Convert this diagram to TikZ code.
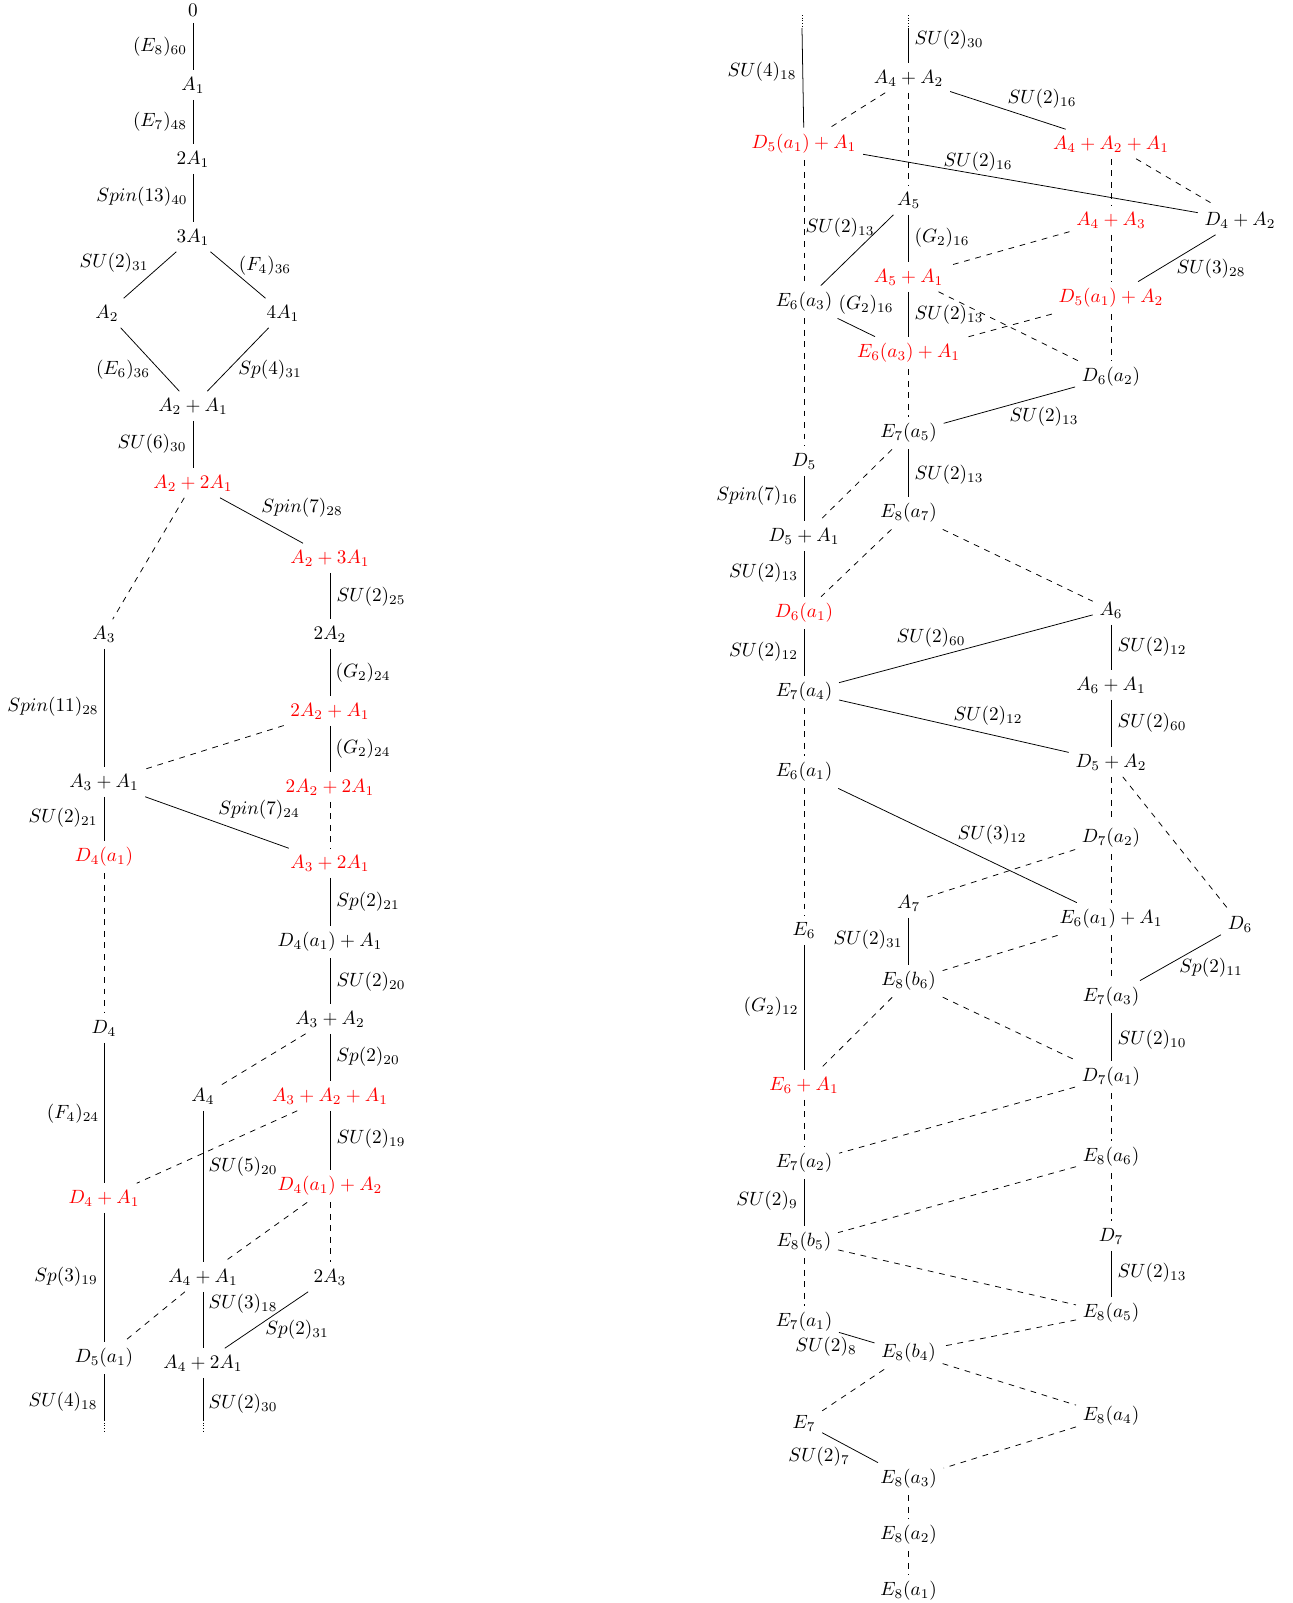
\documentclass[tikz,border=0pt]{standalone}
\begin{document}
\begin{tikzpicture}[x=0.521pt,y=-0.521pt,
  nd/.style={inner sep=0.3333em},
  rn/.style={nd,text=red},
  lab/.style={inner sep=0pt},
  dsh/.style={dashed},
  dts/.style={densely dotted}]
\useasboundingbox (0,0) rectangle (1293,1603);
% ---------------- left diagram: nodes ----------------
\node[nd] (L0) at (193,10) {$0$};
\node[nd] (LA1) at (193,85) {$A_1$};
\node[nd] (L2A1) at (193,159) {$2A_1$};
\node[nd] (L3A1) at (193,237) {$3A_1$};
\node[nd] (LA2) at (107,313) {$A_2$};
\node[nd] (L4A1) at (283,313) {$4A_1$};
\node[nd] (LA2A1) at (193,406) {$A_2+A_1$};
\node[rn] (LA22A1) at (193,483) {$A_2+2A_1$};
\node[rn] (LA23A1) at (330,558) {$A_2+3A_1$};
\node[nd] (LA3) at (104,634) {$A_3$};
\node[nd] (L2A2) at (330,634) {$2A_2$};
\node[rn] (L2A2A1) at (330,711) {$2A_2+A_1$};
\node[nd] (LA3A1) at (104,782) {$A_3+A_1$};
\node[rn] (L2A22A1) at (330,787) {$2A_2+2A_1$};
\node[rn] (LD4a1) at (104,857) {$D_4(a_1)$};
\node[rn] (LA32A1) at (330,863) {$A_3+2A_1$};
\node[nd] (LD4a1A1) at (330,942) {$D_4(a_1)+A_1$};
\node[nd] (LA3A2) at (330,1019) {$A_3+A_2$};
\node[nd] (LD4) at (104,1028) {$D_4$};
\node[nd] (LA4) at (203,1096) {$A_4$};
\node[rn] (LA3A2A1) at (330,1096) {$A_3+A_2+A_1$};
\node[rn] (LD4a1A2) at (330,1186) {$D_4(a_1)+A_2$};
\node[rn] (LD4A1) at (104,1198) {$D_4+A_1$};
\node[nd] (LA4A1) at (203,1277) {$A_4+A_1$};
\node[nd] (L2A3) at (330,1277) {$2A_3$};
\node[nd] (LD5a1) at (104,1358) {$D_5(a_1)$};
\node[nd] (LA42A1) at (203,1363) {$A_4+2A_1$};
\coordinate (Lb1) at (104,1420);
\coordinate (Lb1e) at (104,1431);
\coordinate (Lb2) at (203,1420);
\coordinate (Lb2e) at (203,1431);
% ---------------- left diagram: labels ----------------
\node[lab] (l1) at (160,47) {$(E_8)_{60}$};
\node[lab] (l2) at (160,122) {$(E_7)_{48}$};
\node[lab] (l3) at (142,197) {$Spin(13)_{40}$};
\node[lab] (l4) at (114,263) {$SU(2)_{31}$};
\node[lab] (l5) at (265,266) {$(F_4)_{36}$};
\node[lab] (l6) at (123,370) {$(E_6)_{36}$};
\node[lab] (l7) at (270,370) {$Sp(4)_{31}$};
\node[lab] (l8) at (152,444) {$SU(6)_{30}$};
\node[lab] (l9) at (302,508) {$Spin(7)_{28}$};
\node[lab] (l10) at (371,597) {$SU(2)_{25}$};
\node[lab] (l11) at (363,673) {$(G_2)_{24}$};
\node[lab] (l12) at (53,707) {$Spin(11)_{28}$};
\node[lab] (l13) at (363,749) {$(G_2)_{24}$};
\node[lab] (l14) at (63,818) {$SU(2)_{21}$};
\node[lab] (l15) at (259,810) {$Spin(7)_{24}$};
\node[lab] (l16) at (368,902) {$Sp(2)_{21}$};
\node[lab] (l17) at (371,982) {$SU(2)_{20}$};
\node[lab] (l18) at (368,1057) {$Sp(2)_{20}$};
\node[lab] (l19) at (73,1114) {$(F_4)_{24}$};
\node[lab] (l20) at (371,1139) {$SU(2)_{19}$};
\node[lab] (l21) at (243,1167) {$SU(5)_{20}$};
\node[lab] (l22) at (66,1277) {$Sp(3)_{19}$};
\node[lab] (l23) at (243,1304) {$SU(3)_{18}$};
\node[lab] (l24) at (297,1330) {$Sp(2)_{31}$};
\node[lab] (l25) at (63,1402) {$SU(4)_{18}$};
\node[lab] (l26) at (243,1404) {$SU(2)_{30}$};
% ---------------- left diagram: connectors ----------------
\draw (L0) -- (LA1);
\draw (LA1) -- (L2A1);
\draw (L2A1) -- (L3A1);
\draw (L3A1) -- (LA2);
\draw (L3A1) -- (L4A1);
\draw (LA2) -- (LA2A1);
\draw (L4A1) -- (LA2A1);
\draw (LA2A1) -- (LA22A1);
\draw (LA22A1) -- (LA23A1);
\draw[dsh] (LA22A1) -- (LA3);
\draw (LA23A1) -- (L2A2);
\draw (L2A2) -- (L2A2A1);
\draw (L2A2A1) -- (L2A22A1);
\draw (LA3) -- (LA3A1);
\draw[dsh] (L2A2A1) -- (LA3A1);
\draw (LA3A1) -- (LD4a1);
\draw (LA3A1) -- (LA32A1);
\draw[dsh] (L2A22A1) -- (LA32A1);
\draw (LA32A1) -- (LD4a1A1);
\draw[dsh] (LD4a1) -- (LD4);
\draw (LD4a1A1) -- (LA3A2);
\draw[dsh] (LA3A2) -- (LA4);
\draw (LA3A2) -- (LA3A2A1);
\draw (LD4) -- (LD4A1);
\draw[dsh] (LA3A2A1) -- (LD4A1);
\draw (LA3A2A1) -- (LD4a1A2);
\draw (LA4) -- (LA4A1);
\draw[dsh] (LD4a1A2) -- (LA4A1);
\draw[dsh] (LD4a1A2) -- (L2A3);
\draw (LD4A1) -- (LD5a1);
\draw[dsh] (LA4A1) -- (LD5a1);
\draw (LA4A1) -- (LA42A1);
\draw (L2A3) -- (LA42A1);
\draw (LD5a1) -- (Lb1);
\draw[dts] (Lb1) -- (Lb1e);
\draw (LA42A1) -- (Lb2);
\draw[dts] (Lb2) -- (Lb2e);
% ---------------- right diagram: nodes ----------------
\coordinate (Rt1) at (802,15);
\coordinate (Rt1s) at (802,28);
\coordinate (Rt2) at (908.6,15);
\coordinate (Rt2s) at (908.6,28);
\node[nd] (RA4A2) at (908.6,78) {$A_4+A_2$};
\node[rn] (RD5a1A1) at (804,144) {$D_5(a_1)+A_1$};
\node[rn] (RA4A2A1) at (1111,144) {$A_4+A_2+A_1$};
\node[nd] (RA5) at (908.6,200) {$A_5$};
\node[nd] (RD4A2) at (1240,220) {$D_4+A_2$};
\node[rn] (RA4A3) at (1111,220) {$A_4+A_3$};
\node[rn] (RA5A1) at (908.6,277) {$A_5+A_1$};
\node[nd] (RE6a3) at (804,302) {$E_6(a_3)$};
\node[rn] (RD5a1A2) at (1111,298) {$D_5(a_1)+A_2$};
\node[rn] (RE6a3A1) at (908.6,353) {$E_6(a_3)+A_1$};
\node[nd] (RD6a2) at (1111,377) {$D_6(a_2)$};
\node[nd] (RE7a5) at (908.6,433) {$E_7(a_5)$};
\node[nd] (RD5) at (804,461) {$D_5$};
\node[nd] (RE8a7) at (908.6,513) {$E_8(a_7)$};
\node[nd] (RD5A1) at (804,536) {$D_5+A_1$};
\node[nd] (RA6) at (1111,610) {$A_6$};
\node[rn] (RD6a1) at (804,613) {$D_6(a_1)$};
\node[nd] (RA6A1) at (1111,685) {$A_6+A_1$};
\node[nd] (RE7a4) at (804,692) {$E_7(a_4)$};
\node[nd] (RD5A2) at (1111,762) {$D_5+A_2$};
\node[nd] (RE6a1) at (804,772) {$E_6(a_1)$};
\node[nd] (RD7a2) at (1111,838) {$D_7(a_2)$};
\node[nd] (RA7) at (908.6,903) {$A_7$};
\node[nd] (RE6a1A1) at (1111,919) {$E_6(a_1)+A_1$};
\node[nd] (RD6) at (1240,924) {$D_6$};
\node[nd] (RE6) at (804,930) {$E_6$};
\node[nd] (RE8b6) at (908.6,981) {$E_8(b_6)$};
\node[nd] (RE7a3) at (1111,997) {$E_7(a_3)$};
\node[nd] (RD7a1) at (1111,1077) {$D_7(a_1)$};
\node[rn] (RE6A1) at (804,1085) {$E_6+A_1$};
\node[nd] (RE8a6) at (1111,1157) {$E_8(a_6)$};
\node[nd] (RE7a2) at (804,1163) {$E_7(a_2)$};
\node[nd] (RD7) at (1111,1236) {$D_7$};
\node[nd] (RE8b5) at (804,1242) {$E_8(b_5)$};
\node[nd] (RE8a5) at (1111,1313) {$E_8(a_5)$};
\node[nd] (RE7a1) at (804,1322) {$E_7(a_1)$};
\node[nd] (RE8b4) at (908.6,1353) {$E_8(b_4)$};
\node[nd] (RE8a4) at (1111,1416) {$E_8(a_4)$};
\node[nd] (RE7) at (804,1423) {$E_7$};
\node[nd] (RE8a3) at (908.6,1479) {$E_8(a_3)$};
\node[nd] (RE8a2) at (908.6,1535) {$E_8(a_2)$};
\node[nd] (RE8a1) at (908.6,1591) {$E_8(a_1)$};
% ---------------- right diagram: labels ----------------
\node[lab] (r1) at (949,40) {$SU(2)_{30}$};
\node[lab] (r2) at (762,72) {$SU(4)_{18}$};
\node[lab] (r3) at (1042,99) {$SU(2)_{16}$};
\node[lab] (r4) at (978,162) {$SU(2)_{16}$};
\node[lab] (r5) at (840,228) {$SU(2)_{13}$};
\node[lab] (r6) at (942,238) {$(G_2)_{16}$};
\node[lab] (r7) at (1211,269) {$SU(3)_{28}$};
\node[lab] (r8) at (866,305) {$(G_2)_{16}$};
\node[lab] (r9) at (949,315) {$SU(2)_{13}$};
\node[lab] (r10) at (1044,417) {$SU(2)_{13}$};
\node[lab] (r11) at (949,475) {$SU(2)_{13}$};
\node[lab] (r12) at (757,496) {$Spin(7)_{16}$};
\node[lab] (r13) at (763.5,573) {$SU(2)_{13}$};
\node[lab] (r14) at (931,638) {$SU(2)_{60}$};
\node[lab] (r15) at (763.5,652) {$SU(2)_{12}$};
\node[lab] (r16) at (1152,647) {$SU(2)_{12}$};
\node[lab] (r17) at (988,716) {$SU(2)_{12}$};
\node[lab] (r18) at (1152,723) {$SU(2)_{60}$};
\node[lab] (r19) at (992,835) {$SU(3)_{12}$};
\node[lab] (r20) at (868,940) {$SU(2)_{31}$};
\node[lab] (r21) at (1211,968) {$Sp(2)_{11}$};
\node[lab] (r22) at (771,1007) {$(G_2)_{12}$};
\node[lab] (r23) at (1152,1040) {$SU(2)_{10}$};
\node[lab] (r24) at (767,1201) {$SU(2)_{9}$};
\node[lab] (r25) at (1152,1273) {$SU(2)_{13}$};
\node[lab] (r26) at (826,1347) {$SU(2)_{8}$};
\node[lab] (r27) at (819,1457) {$SU(2)_{7}$};
% ---------------- right diagram: connectors ----------------
\draw[dts] (Rt1) -- (Rt1s);
\draw (Rt1s) -- (RD5a1A1);
\draw[dts] (Rt2) -- (Rt2s);
\draw (Rt2s) -- (RA4A2);
\draw[dsh] (RA4A2) -- (RD5a1A1);
\draw (RA4A2) -- (RA4A2A1);
\draw[dsh] (RA4A2) -- (RA5);
\draw (RD5a1A1) -- (RD4A2);
\draw[dsh] (RD5a1A1) -- (RE6a3);
\draw[dsh] (RA4A2A1) -- (RD4A2);
\draw[dsh] (RA4A2A1) -- (RA4A3);
\draw (RA5) -- (RA5A1);
\draw (RA5) -- (RE6a3);
\draw[dsh] (RA4A3) -- (RA5A1);
\draw[dsh] (RA4A3) -- (RD5a1A2);
\draw (RD4A2) -- (RD5a1A2);
\draw (RA5A1) -- (RE6a3A1);
\draw[dsh] (RA5A1) -- (RD6a2);
\draw (RE6a3) -- (RE6a3A1);
\draw[dsh] (RD5a1A2) -- (RE6a3A1);
\draw[dsh] (RD5a1A2) -- (RD6a2);
\draw[dsh] (RE6a3A1) -- (RE7a5);
\draw (RD6a2) -- (RE7a5);
\draw[dsh] (RE6a3) -- (RD5);
\draw[dsh] (RE7a5) -- (RD5A1);
\draw (RE7a5) -- (RE8a7);
\draw (RD5) -- (RD5A1);
\draw (RD5A1) -- (RD6a1);
\draw[dsh] (RE8a7) -- (RD6a1);
\draw[dsh] (RE8a7) -- (RA6);
\draw (RD6a1) -- (RE7a4);
\draw (RA6) -- (RE7a4);
\draw (RA6) -- (RA6A1);
\draw (RE7a4) -- (RD5A2);
\draw (RA6A1) -- (RD5A2);
\draw[dsh] (RE7a4) -- (RE6a1);
\draw (RE6a1) -- (RE6a1A1);
\draw[dsh] (RD5A2) -- (RD7a2);
\draw[dsh] (RD5A2) -- (RD6);
\draw[dsh] (RD7a2) -- (RA7);
\draw[dsh] (RD7a2) -- (RE6a1A1);
\draw[dsh] (RE6a1) -- (RE6);
\draw (RA7) -- (RE8b6);
\draw[dsh] (RE6a1A1) -- (RE8b6);
\draw[dsh] (RE6a1A1) -- (RE7a3);
\draw (RD6) -- (RE7a3);
\draw (RE6) -- (RE6A1);
\draw[dsh] (RE8b6) -- (RE6A1);
\draw[dsh] (RE8b6) -- (RD7a1);
\draw (RE7a3) -- (RD7a1);
\draw[dsh] (RE6A1) -- (RE7a2);
\draw[dsh] (RD7a1) -- (RE7a2);
\draw[dsh] (RD7a1) -- (RE8a6);
\draw (RE7a2) -- (RE8b5);
\draw[dsh] (RE8a6) -- (RE8b5);
\draw[dsh] (RE8a6) -- (RD7);
\draw[dsh] (RE8b5) -- (RE8a5);
\draw[dsh] (RE8b5) -- (RE7a1);
\draw (RD7) -- (RE8a5);
\draw (RE7a1) -- (RE8b4);
\draw[dsh] (RE8a5) -- (RE8b4);
\draw[dsh] (RE8b4) -- (RE7);
\draw[dsh] (RE8b4) -- (RE8a4);
\draw (RE7) -- (RE8a3);
\draw[dsh] (RE8a4) -- (RE8a3);
\draw[dsh] (RE8a3) -- (RE8a2);
\draw[dsh] (RE8a2) -- (RE8a1);
\end{tikzpicture}
\end{document}
